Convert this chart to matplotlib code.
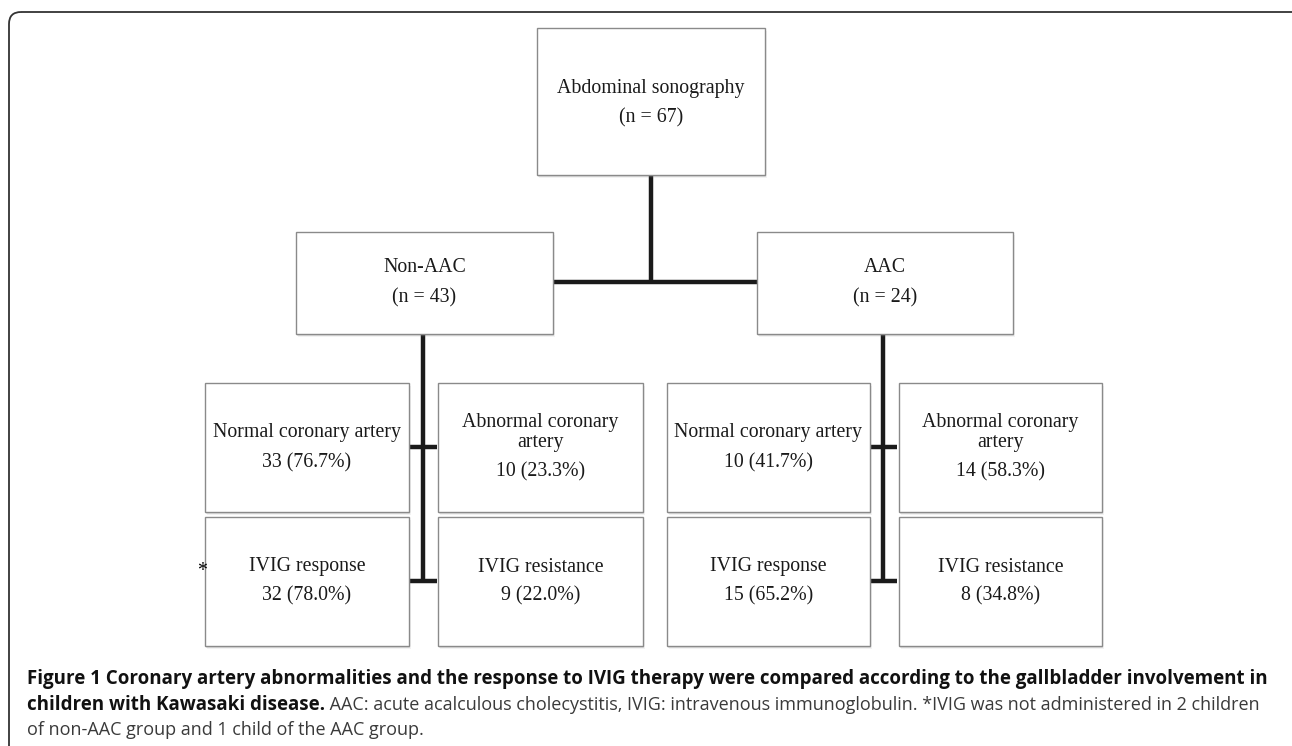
import matplotlib.pyplot as plt
from matplotlib.patches import Rectangle, FancyBboxPatch

root_label = "Abdominal sonography"
root_n = 67
group_labels = ["Non-AAC", "AAC"]
group_n = [43, 24]
coronary_labels = [["Normal coronary artery"], ["Abnormal coronary", "artery"]]
coronary_counts = [[33, 10], [10, 14]]
coronary_pct = [[76.7, 23.3], [41.7, 58.3]]
ivig_labels = ["IVIG response", "IVIG resistance"]
ivig_counts = [[32, 9], [15, 8]]
ivig_pct = [[78.0, 22.0], [65.2, 34.8]]

caption_bold_1 = ("Figure 1 Coronary artery abnormalities and the response to IVIG therapy "
                  "were compared according to the gallbladder involvement in")
caption_bold_2 = "children with Kawasaki disease."
caption_rest_2 = (" AAC: acute acalculous cholecystitis, IVIG: intravenous immunoglobulin. "
                  "*IVIG was not administered in 2 children")
caption_3 = "of non-AAC group and 1 child of the AAC group."

W, H = 1292, 746
fig = plt.figure(figsize=(W / 100, H / 100), dpi=100)
ax = fig.add_axes([0, 0, 1, 1])
ax.set_xlim(0, W)
ax.set_ylim(H, 0)
ax.axis('off')

serif = 'Liberation Serif'
fs = 14.3
line_c = '#1a1a1a'
lw_conn = 3.2


def box(x0, y0, x1, y1):
    # soft shadow
    for k, a in [(3, 0.10), (2, 0.18), (1, 0.28)]:
        ax.add_patch(Rectangle((x0 + k * 0.6, y0 + k), x1 - x0, y1 - y0,
                               facecolor='#808080', edgecolor='none', alpha=a, zorder=2))
    ax.add_patch(Rectangle((x0, y0), x1 - x0, y1 - y0, facecolor='white',
                           edgecolor='#8a8a8a', lw=1.0, zorder=3))


def lines(xc, ys, texts):
    for y, s in zip(ys, texts):
        ax.text(xc, y, s, ha='center', va='center', family=serif,
                fontsize=fs, color='#1a1a1a', zorder=4)


# outer frame (rounded, open at right/bottom)
ax.add_patch(FancyBboxPatch((9, 12), 1320, 800, boxstyle="round,pad=0,rounding_size=12",
                            facecolor='none', edgecolor='#333333', lw=1.3, zorder=1,
                            clip_on=True))

# connectors
ax.plot([651, 651], [175, 282], color=line_c, lw=lw_conn, zorder=1, solid_capstyle='butt')
ax.plot([553, 757], [282, 282], color=line_c, lw=lw_conn, zorder=1, solid_capstyle='butt')
for cx in [423, 883]:
    ax.plot([cx, cx], [334, 582], color=line_c, lw=lw_conn, zorder=1, solid_capstyle='butt')
    ax.plot([cx - 14, cx + 14], [447, 447], color=line_c, lw=lw_conn, zorder=1, solid_capstyle='butt')
    ax.plot([cx - 14, cx + 14], [581, 581], color=line_c, lw=lw_conn, zorder=1, solid_capstyle='butt')

# root
box(537, 28, 765, 175)
lines(651, [88, 118], [root_label, f"(n = {root_n})"])

# groups
group_x = [(296, 553), (757, 1013)]
for (x0, x1), lab, n in zip(group_x, group_labels, group_n):
    box(x0, 232, x1, 334)
    lines((x0 + x1) / 2, [268, 298], [lab, f"(n = {n})"])

# leaf boxes
leaf_x = [[(205, 409), (438, 643)], [(667, 870), (899, 1102)]]
for g in range(2):
    for j in range(2):
        x0, x1 = leaf_x[g][j]
        xc = (x0 + x1) / 2
        box(x0, 383, x1, 512)
        cnt = f"{coronary_counts[g][j]} ({coronary_pct[g][j]:.1f}%)"
        if j == 0:
            lines(xc, [433, 463], coronary_labels[j] + [cnt])
        else:
            lines(xc, [422, 443, 472], coronary_labels[j] + [cnt])
        box(x0, 517, x1, 646)
        lines(xc, [567, 596], [ivig_labels[j], f"{ivig_counts[g][j]} ({ivig_pct[g][j]:.1f}%)"])

ax.text(202, 571, "*", ha='center', va='center', family=serif, fontsize=fs, zorder=4)

# caption
cap_font = ['Open Sans', 'DejaVu Sans']
cfs = 13.5
ax.text(27, 679, caption_bold_1, ha='left', va='center', family=cap_font,
        fontsize=cfs, fontweight='bold', color='#111111')
t = ax.text(27, 705, caption_bold_2, ha='left', va='center', family=cap_font,
            fontsize=cfs, fontweight='bold', color='#111111')
fig.canvas.draw()
inv = ax.transData.inverted()
x_end = inv.transform((t.get_window_extent().x1, 0))[0]
r = ax.text(x_end, 705, caption_rest_2, ha='left', va='center', family=cap_font,
            fontsize=cfs, color='#3a3a3a')
fig.canvas.draw()
bb = r.get_window_extent()
w_now = inv.transform((bb.x1, 0))[0] - inv.transform((bb.x0, 0))[0]
rfs = cfs * (1262 - x_end) / w_now
r.set_fontsize(rfs)
ax.text(27, 730, caption_3, ha='left', va='center', family=cap_font,
        fontsize=rfs, color='#3a3a3a')

fig.savefig('out.png', dpi=100)
